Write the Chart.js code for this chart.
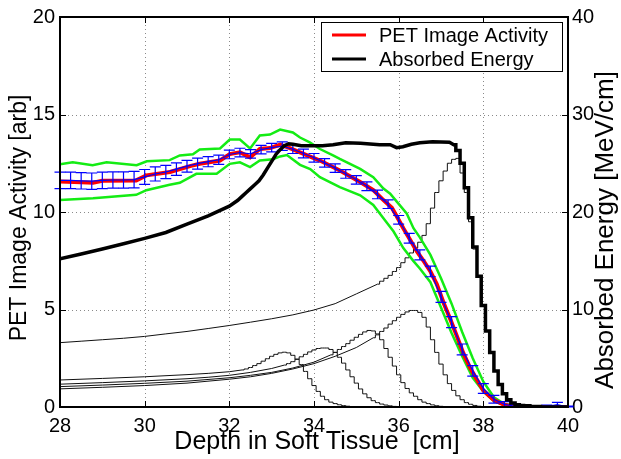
<!DOCTYPE html>
<html>
<head>
<meta charset="utf-8">
<script src="https://cdn.jsdelivr.net/npm/chart.js@4.4.1/dist/chart.umd.min.js"></script>
<style>
  html, body { margin: 0; padding: 0; background: #fff; }
  #wrap { width: 621px; height: 459px; }
</style>
</head>
<body>
<div id="wrap"><canvas id="c" width="621" height="459"></canvas></div>
<script>
// ---- axis ticks ----
const depthTicks = [28, 30, 32, 34, 36, 38, 40];
const activityTicks = [0, 5, 10, 15, 20];
const energyTicks = [0, 10, 20, 30, 40];

// ---- PET image activity (arb), measured profile ----
const petActivity = [
  [28.0,11.57],[28.5,11.52],[28.78,11.5],[29.0,11.6],[29.8,11.62],[30.04,11.88],[30.6,12.05],
  [31.07,12.35],[31.3,12.47],[31.78,12.64],[32.01,12.97],[32.25,13.06],[32.49,12.8],[32.72,13.23],
  [32.96,13.28],[33.2,13.45],[33.43,13.28],[33.67,13.06],[33.91,12.84],[34.14,12.64],[34.61,12.13],
  [35.09,11.54],[35.4,11.12],[35.64,10.61],[35.84,10.22],[35.96,9.76],[36.11,9.17],[36.27,8.58],
  [36.43,7.98],[36.6,7.45],[36.75,6.95],[36.9,6.3],[37.06,5.35],[37.22,4.5],[37.38,3.6],[37.53,2.75],
  [37.69,2.0],[37.85,1.4],[38.0,0.85],[38.24,0.37],[38.48,0.12],[38.72,0.03],[39.0,0.0],[40.0,0.0]
];

// ---- binned PET activity with error bars ----
const binDepth = [
  28.0,28.25,28.5,28.75,29.0,29.25,29.5,29.75,30.0,30.25,30.5,30.75,31.0,31.25,31.5,31.75,
  32.0,32.25,32.5,32.75,33.0,33.25,33.5,33.75,34.0,34.25,34.5,34.75,35.0,35.25,35.5,35.75,
  36.0,36.25,36.5,36.75,37.0,37.25,37.5,37.75,38.0,38.25,38.5,38.75,39.0,39.25,39.5,39.75,40.0
];
const binActivity = [
  11.62,11.62,11.6,11.58,11.62,11.64,11.64,11.66,11.8,11.95,12.05,12.2,12.35,12.48,12.58,12.68,
  12.95,13.05,12.98,13.2,13.3,13.38,13.22,13.0,12.78,12.52,12.25,11.95,11.65,11.32,10.9,10.4,
  9.6,8.65,7.8,6.95,5.65,4.35,2.95,1.85,0.95,0.4,0.13,0.04,0.01,0.0,0.02,0.12,0.0
];
const binError = [
  0.42,0.42,0.42,0.42,0.42,0.42,0.42,0.42,0.38,0.36,0.34,0.32,0.3,0.28,0.26,0.24,
  0.22,0.22,0.22,0.22,0.22,0.22,0.22,0.22,0.22,0.22,0.22,0.22,0.22,0.22,0.22,0.22,
  0.22,0.25,0.26,0.27,0.28,0.28,0.28,0.27,0.25,0.2,0.15,0.1,0.05,0.05,0.08,0.12,0.05
];

// ---- activity confidence band ----
const bandUpper = [
  [28.0,12.45],[28.3,12.55],[28.77,12.4],[29.1,12.55],[29.81,12.4],[30.05,12.6],[30.59,12.66],
  [30.83,12.9],[31.14,12.96],[31.3,13.21],[31.78,13.26],[32.01,13.72],[32.25,13.72],[32.49,13.26],
  [32.72,13.92],[32.96,13.97],[33.2,14.23],[33.5,14.08],[33.67,13.82],[33.9,13.57],[34.14,13.23],
  [34.45,12.9],[34.61,12.72],[35.09,12.21],[35.4,11.79],[35.64,11.2],[35.8,10.94],[35.96,10.52],
  [36.19,9.93],[36.35,9.17],[36.5,8.7],[36.75,7.8],[37.0,6.6],[37.25,5.3],[37.5,3.85],[37.75,2.5],
  [38.0,1.3],[38.25,0.5],[38.5,0.15],[38.75,0.05],[39.0,0.0],[40.0,0.0]
];
const bandLower = [
  [28.0,10.62],[28.78,10.7],[29.8,10.88],[30.04,11.12],[30.59,11.4],[30.83,11.5],[31.22,11.96],
  [31.7,11.96],[32.01,12.47],[32.25,12.55],[32.49,12.3],[32.72,12.64],[33.03,12.71],[33.2,12.85],
  [33.36,12.92],[33.67,12.42],[33.91,12.2],[34.14,11.79],[34.61,11.28],[35.09,10.86],[35.4,10.36],
  [35.64,9.68],[35.88,9.0],[36.11,8.15],[36.35,7.48],[36.5,7.1],[36.75,6.4],[37.0,5.1],[37.25,3.8],
  [37.5,2.6],[37.75,1.5],[38.0,0.8],[38.25,0.3],[38.5,0.1],[38.75,0.02],[39.0,0.0],[40.0,0.0]
];

// ---- absorbed energy (MeV/cm): total spread-out peak ----
const energyTotal = [
  [28,15.2],[28.5,15.7],[29,16.2],[29.5,16.75],[30,17.3],[30.5,17.9],[31,18.75],[31.5,19.6],
  [32.0,20.6],[32.2,21.2],[32.3,21.6],[32.4,22.0],[32.5,22.4],[32.6,22.8],[32.7,23.2],[32.8,23.8],
  [32.9,24.5],[33.0,25.2],[33.1,25.9],[33.2,26.4],[33.3,26.8],[33.4,27.0],[33.5,26.95],[33.7,26.8],
  [34.0,26.8],[34.2,26.8],[34.45,26.9],[34.75,27.1],[35.1,27.05],[35.55,26.9],[35.8,26.9],[35.95,26.6],
  [36.1,26.7],[36.3,26.95],[36.5,27.1],[36.8,27.2],[37.2,27.15],[37.3,26.9]
];
const energyTotalFalloff = [
  [37.3,26.9],[37.4,26.3],[37.5,25.0],[37.6,22.5],[37.7,19.4],[37.8,16.4],[37.9,13.4],[38.0,10.4],
  [38.1,7.8],[38.2,5.6],[38.3,3.7],[38.4,2.3],[38.5,1.35],[38.6,0.75],[38.7,0.4],[38.8,0.22],
  [38.9,0.15],[39.0,0.12],[39.2,0.05],[39.5,0.0],[40,0.0]
];

// ---- absorbed energy (MeV/cm): individual pristine peaks (entrance + Bragg region) ----
const peak1Entrance = [[28,2.77],[29,2.93],[30,3.1],[31,3.32],[31.5,3.45],[32,3.62],[32.3,3.8]];
const peak1Bragg = [
  [32.3,3.8],[32.4,3.9],[32.5,4.05],[32.6,4.25],[32.7,4.45],[32.8,4.7],[32.9,4.95],[33.0,5.2],
  [33.1,5.4],[33.2,5.55],[33.3,5.62],[33.4,5.55],[33.5,5.3],[33.6,4.9],[33.7,4.35],[33.8,3.65],
  [33.9,2.9],[34.0,2.2],[34.1,1.6],[34.2,1.1],[34.3,0.75],[34.4,0.5],[34.5,0.35],[34.6,0.23],
  [34.7,0.14],[34.8,0.08],[34.9,0.04],[35.0,0.02],[35.1,0],[40,0]
];
const peak2Entrance = [[28,2.34],[29,2.5],[30,2.68],[31,2.9],[31.5,3.05],[32,3.25],[32.5,3.55],[33,3.95],[33.3,4.3]];
const peak2Bragg = [
  [33.3,4.3],[33.4,4.45],[33.5,4.65],[33.6,4.9],[33.7,5.15],[33.8,5.4],[33.9,5.65],[34.0,5.85],
  [34.1,6.0],[34.2,6.05],[34.3,6.05],[34.4,5.9],[34.5,5.6],[34.6,5.1],[34.7,4.5],[34.8,3.8],
  [34.9,3.1],[35.0,2.45],[35.1,1.85],[35.2,1.35],[35.3,0.95],[35.4,0.65],[35.5,0.45],[35.6,0.3],
  [35.7,0.2],[35.8,0.12],[35.9,0.06],[36.0,0.02],[36.1,0],[40,0]
];
const peak3Entrance = [[28,2.09],[29,2.25],[30,2.43],[31,2.65],[32,3.0],[32.5,3.25],[33,3.55],[33.5,4.0],[34,4.6],[34.4,5.35]];
const peak3Bragg = [
  [34.4,5.35],[34.5,5.6],[34.6,5.9],[34.7,6.2],[34.8,6.5],[34.9,6.85],[35.0,7.15],[35.1,7.45],
  [35.2,7.7],[35.3,7.85],[35.4,7.8],[35.5,7.5],[35.6,6.9],[35.7,6.0],[35.8,5.1],[35.9,4.2],
  [36.0,3.3],[36.1,2.5],[36.2,1.9],[36.3,1.45],[36.4,1.1],[36.5,0.75],[36.6,0.5],[36.7,0.35],
  [36.8,0.22],[36.9,0.13],[37.0,0.07],[37.1,0.03],[37.2,0],[40,0]
];
const peak4Entrance = [[28,1.86],[29,2.02],[30,2.2],[31,2.45],[32,2.85],[32.5,3.1],[33,3.45],[33.5,3.9],[34,4.45],[34.5,5.2],[35.0,6.1],[35.4,7.1]];
const peak4Bragg = [
  [35.4,7.1],[35.5,7.4],[35.6,7.75],[35.7,8.1],[35.8,8.5],[35.9,8.85],[36.0,9.2],[36.1,9.5],
  [36.2,9.75],[36.3,9.9],[36.4,9.9],[36.5,9.7],[36.6,9.2],[36.7,8.2],[36.8,6.9],[36.9,5.6],
  [37.0,4.4],[37.1,3.3],[37.2,2.4],[37.3,1.7],[37.4,1.15],[37.5,0.75],[37.6,0.45],[37.7,0.28],
  [37.8,0.16],[37.9,0.08],[38.0,0.03],[38.1,0],[40,0]
];
const peak5Entrance = [
  [28,6.6],[28.5,6.75],[29,6.9],[29.5,7.05],[30,7.24],[30.5,7.5],[31,7.75],[31.5,8.05],[32,8.36],
  [32.5,8.7],[33,9.05],[33.5,9.45],[34,9.95],[34.5,10.6],[35.0,11.6],[35.5,12.6]
];
const peak5Bragg = [
  [35.5,12.6],[35.6,12.9],[35.7,13.2],[35.8,13.5],[35.9,13.9],[36.0,14.3],[36.1,14.8],[36.2,15.3],
  [36.3,15.8],[36.4,16.3],[36.5,16.9],[36.6,17.6],[36.7,18.8],[36.8,20.4],[36.9,22.0],[37.0,23.2],
  [37.1,24.2],[37.2,25.0],[37.3,25.4],[37.4,25.5],[37.5,24.0],[37.6,22.0],[37.7,19.0],[37.8,16.2],
  [37.9,13.4],[38.0,10.4],[38.1,7.8],[38.2,5.6],[38.3,3.7],[38.4,2.3],[38.5,1.3],[38.6,0.7],
  [38.7,0.35],[38.8,0.18],[38.9,0.08],[39.0,0.03],[39.1,0],[40,0]
];

const FONT = '"Liberation Sans", Arial, Helvetica, sans-serif';
const pts = arr => arr.map(p => ({ x: p[0], y: p[1] }));

function thinCurve(arr, stepped) {
  return {
    type: 'line', label: '', data: pts(arr), yAxisID: 'y2',
    borderColor: '#111', borderWidth: 1, pointRadius: 0, stepped: stepped ? 'middle' : false,
    tension: 0, fill: false, order: 6
  };
}

const datasets = [
  {
    type: 'line', label: 'Absorbed Energy', data: pts(energyTotal), yAxisID: 'y2',
    borderColor: '#000', borderWidth: 3.5, pointRadius: 0, tension: 0, fill: false, order: 1,
    borderCapStyle: 'round'
  },
  {
    type: 'line', label: 'Absorbed Energy falloff', data: pts(energyTotalFalloff), yAxisID: 'y2',
    borderColor: '#000', borderWidth: 3.5, pointRadius: 0, stepped: 'middle', fill: false, order: 1
  },
  {
    type: 'line', label: 'PET binned', data: binDepth.map((d, i) => ({ x: d, y: binActivity[i] })),
    yAxisID: 'y', borderColor: '#0000ff', borderWidth: 1.2, pointRadius: 0, tension: 0,
    fill: false, order: 2
  },
  {
    type: 'line', label: 'PET Image Activity', data: pts(petActivity), yAxisID: 'y',
    borderColor: '#ff0000', borderWidth: 4, pointRadius: 0, tension: 0, fill: false, order: 3
  },
  {
    type: 'line', label: 'upper', data: pts(bandUpper), yAxisID: 'y',
    borderColor: '#14ec14', borderWidth: 2.5, pointRadius: 0, tension: 0, fill: false, order: 4
  },
  {
    type: 'line', label: 'lower', data: pts(bandLower), yAxisID: 'y',
    borderColor: '#14ec14', borderWidth: 2.5, pointRadius: 0, tension: 0, fill: false, order: 4
  },
  thinCurve(peak1Entrance, false), thinCurve(peak1Bragg, true),
  thinCurve(peak2Entrance, false), thinCurve(peak2Bragg, true),
  thinCurve(peak3Entrance, false), thinCurve(peak3Bragg, true),
  thinCurve(peak4Entrance, false), thinCurve(peak4Bragg, true),
  thinCurve(peak5Entrance, false), thinCurve(peak5Bragg, true)
];

// dotted grid, box frame with inward ticks, error bars, legend and axis titles
const decorations = {
  id: 'decorations',
  beforeDatasetsDraw(chart) {
    const { ctx, chartArea: a, scales } = chart;
    ctx.save();
    ctx.strokeStyle = '#8a8a8a';
    ctx.lineWidth = 1;
    ctx.setLineDash([1, 3]);
    depthTicks.slice(1, -1).forEach(v => {
      const px = Math.round(scales.x.getPixelForValue(v)) + 0.5;
      ctx.beginPath(); ctx.moveTo(px, a.top); ctx.lineTo(px, a.bottom); ctx.stroke();
    });
    activityTicks.slice(1, -1).forEach(v => {
      const py = Math.round(scales.y.getPixelForValue(v)) + 0.5;
      ctx.beginPath(); ctx.moveTo(a.left, py); ctx.lineTo(a.right, py); ctx.stroke();
    });
    ctx.restore();
  },
  afterDatasetDraw(chart, args) {
    if (chart.data.datasets[args.index].label !== 'PET binned') return;
    const { ctx, scales } = chart;
    ctx.save();
    ctx.strokeStyle = '#0000ff';
    ctx.lineWidth = 1.2;
    const cap = 5.5;
    binDepth.forEach((d, i) => {
      const px = scales.x.getPixelForValue(d);
      const yt = scales.y.getPixelForValue(binActivity[i] + binError[i]);
      const yb = scales.y.getPixelForValue(Math.max(0, binActivity[i] - binError[i]));
      ctx.beginPath();
      ctx.moveTo(px, yt); ctx.lineTo(px, yb);
      ctx.moveTo(px - cap, yt); ctx.lineTo(px + cap, yt);
      ctx.moveTo(px - cap, yb); ctx.lineTo(px + cap, yb);
      ctx.stroke();
    });
    ctx.restore();
  },
  afterDraw(chart) {
    const { ctx, chartArea: a, scales } = chart;
    ctx.save();
    // inward ticks
    ctx.strokeStyle = '#000';
    ctx.lineWidth = 1;
    const t = 6;
    depthTicks.forEach(v => {
      const px = Math.round(scales.x.getPixelForValue(v)) + 0.5;
      ctx.beginPath();
      ctx.moveTo(px, a.bottom); ctx.lineTo(px, a.bottom - t);
      ctx.moveTo(px, a.top); ctx.lineTo(px, a.top + t);
      ctx.stroke();
    });
    activityTicks.forEach(v => {
      const py = Math.round(scales.y.getPixelForValue(v)) + 0.5;
      ctx.beginPath(); ctx.moveTo(a.left, py); ctx.lineTo(a.left + t, py); ctx.stroke();
    });
    energyTicks.forEach(v => {
      const py = Math.round(scales.y2.getPixelForValue(v)) + 0.5;
      ctx.beginPath(); ctx.moveTo(a.right, py); ctx.lineTo(a.right - t, py); ctx.stroke();
    });
    // frame
    ctx.lineWidth = 2;
    ctx.strokeRect(a.left, a.top, a.right - a.left, a.bottom - a.top);

    // legend
    const lx = 321, ly = 22, lw = 241, lh = 49;
    ctx.fillStyle = '#fff';
    ctx.fillRect(lx, ly, lw, lh);
    ctx.lineWidth = 1;
    ctx.strokeStyle = '#000';
    ctx.strokeRect(lx + 0.5, ly + 0.5, lw, lh);
    const entries = [
      { text: 'PET Image Activity', color: '#ff0000', y: ly + 13 },
      { text: 'Absorbed Energy', color: '#000000', y: ly + 37 }
    ];
    ctx.font = '20px ' + FONT;
    ctx.textBaseline = 'middle';
    ctx.textAlign = 'left';
    entries.forEach(e => {
      ctx.strokeStyle = e.color;
      ctx.lineWidth = 3;
      ctx.beginPath(); ctx.moveTo(332, e.y); ctx.lineTo(366, e.y); ctx.stroke();
      ctx.fillStyle = '#000';
      ctx.fillText(e.text, 379, e.y + 1);
    });

    // axis titles
    ctx.fillStyle = '#000';
    ctx.textAlign = 'center';
    ctx.textBaseline = 'middle';
    ctx.font = '25px ' + FONT;
    ctx.fillText('Depth in Soft Tissue  [cm]', 317, 442);
    ctx.save();
    ctx.font = '23px ' + FONT;
    ctx.translate(20, 218);
    ctx.rotate(-Math.PI / 2);
    ctx.fillText('PET Image Activity [arb]', 0, 0);
    ctx.restore();
    ctx.save();
    ctx.font = '26px ' + FONT;
    ctx.translate(606, 230);
    ctx.rotate(-Math.PI / 2);
    ctx.fillText('Absorbed Energy [MeV/cm]', 0, 0);
    ctx.restore();
    ctx.restore();
  }
};

const tickFont = { family: FONT, size: 20 };

new Chart(document.getElementById('c'), {
  type: 'line',
  data: { datasets },
  options: {
    responsive: false,
    animation: false,
    devicePixelRatio: 1,
    layout: { padding: { top: 16, left: 0, right: 0, bottom: 0 } },
    plugins: { legend: { display: false }, tooltip: { enabled: false } },
    scales: {
      x: {
        type: 'linear', min: 28, max: 40,
        afterBuildTicks: s => { s.ticks = depthTicks.map(v => ({ value: v })); },
        afterFit: s => { s.height = 52; },
        ticks: { font: tickFont, color: '#000', padding: 7, maxRotation: 0, autoSkip: false },
        grid: { display: false, drawTicks: false },
        border: { display: false }
      },
      y: {
        type: 'linear', position: 'left', min: 0, max: 20,
        afterBuildTicks: s => { s.ticks = activityTicks.map(v => ({ value: v })); },
        afterFit: s => { s.width = 60; },
        ticks: { font: tickFont, color: '#000', padding: 5 },
        grid: { display: false, drawTicks: false },
        border: { display: false }
      },
      y2: {
        type: 'linear', position: 'right', min: 0, max: 40,
        afterBuildTicks: s => { s.ticks = energyTicks.map(v => ({ value: v })); },
        afterFit: s => { s.width = 53; },
        ticks: { font: tickFont, color: '#000', padding: 4 },
        grid: { display: false, drawTicks: false },
        border: { display: false }
      }
    }
  },
  plugins: [decorations]
});
</script>
</body>
</html>
